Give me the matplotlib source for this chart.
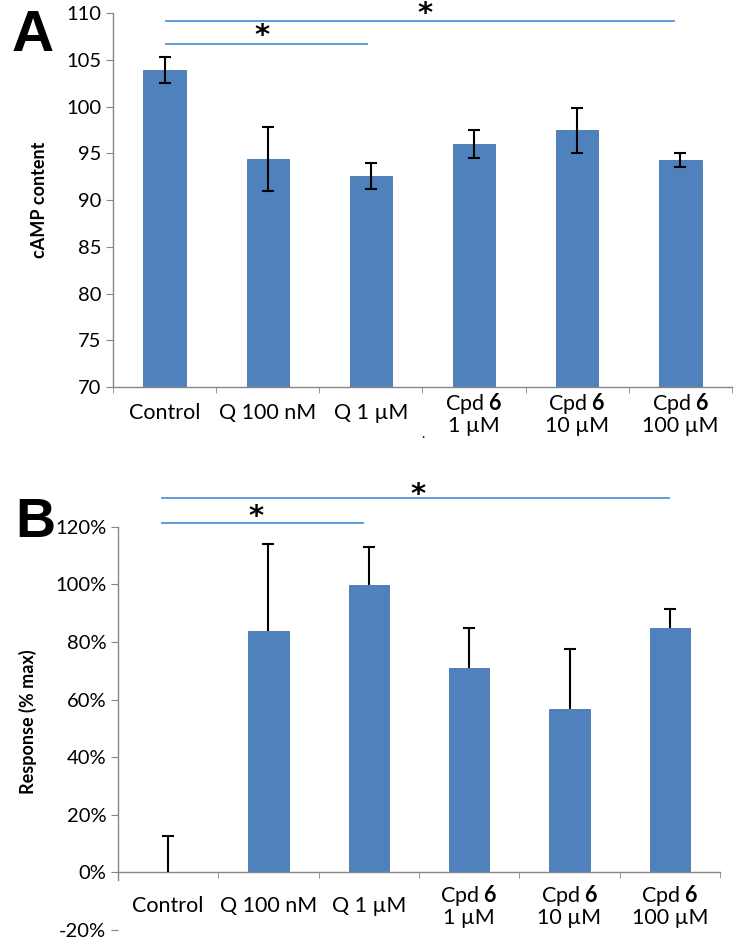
import matplotlib
matplotlib.use("Agg")
import matplotlib.pyplot as plt
import numpy as np
from matplotlib.ticker import PercentFormatter, FixedLocator

plt.rcParams['font.family'] = ['Lato', 'DejaVu Sans']
plt.rcParams['mathtext.fontset'] = 'custom'
plt.rcParams['mathtext.rm'] = 'Lato'
plt.rcParams['mathtext.bf'] = 'Lato:bold'
plt.rcParams['axes.unicode_minus'] = False

# data
labels = ['Control', 'Q 100 nM', 'Q 1 µM',
          'Cpd $\\mathbf{6}$\n1 µM', 'Cpd $\\mathbf{6}$\n10 µM', 'Cpd $\\mathbf{6}$\n100 µM']
camp = [103.9, 94.4, 92.6, 96.0, 97.5, 94.3]
camp_err = [1.4, 3.4, 1.4, 1.5, 2.4, 0.75]
resp = [0.0, 0.838, 0.997, 0.708, 0.567, 0.849]
resp_err = [0.126, 0.303, 0.132, 0.141, 0.210, 0.064]

bar_color = '#4F81BD'
sig_color = '#4C94D8'
axis_color = '#868686'

fig = plt.figure(figsize=(7.42, 9.46), dpi=100)
axA = fig.add_axes([0.1523, 0.5909, 0.8342, 0.3950])
axB = fig.add_axes([0.1590, 0.0169, 0.8114, 0.4263])

x = np.arange(len(labels))


def style_axis(ax, pad):
    for s in ['top', 'right']:
        ax.spines[s].set_visible(False)
    for s in ['left', 'bottom']:
        ax.spines[s].set_color(axis_color)
        ax.spines[s].set_linewidth(1.0)
    ax.set_xlim(-0.5, len(labels) - 0.5)
    ax.xaxis.set_major_locator(FixedLocator(x))
    ax.set_xticklabels(labels, fontsize=15.5, linespacing=1.0)
    ax.xaxis.set_minor_locator(FixedLocator(np.arange(len(labels) + 1) - 0.5))
    ax.tick_params(axis='x', which='major', length=0, pad=pad)
    ax.tick_params(axis='x', which='minor', length=4, direction='out', color=axis_color)
    ax.tick_params(axis='y', length=5, direction='out', color=axis_color, labelsize=14.5)
    for t in ax.get_xticklabels():
        t.set_verticalalignment('center')


def star(ax, xs, ytop):
    ax.text(xs, ytop, '*', fontsize=21, family='DejaVu Sans', fontweight='bold',
            ha='center', va='top', clip_on=False)


# ---- panel A ----
axA.bar(x, camp, width=0.41, color=bar_color, edgecolor='#4474ad', linewidth=0.6, zorder=2)
axA.errorbar(x, camp, yerr=camp_err, fmt='none', ecolor='black', elinewidth=1.5,
             capsize=4, capthick=1.5, zorder=3)
axA.set_ylim(70, 110)
axA.set_yticks(np.arange(70, 111, 5))
style_axis(axA, 19)
axA.set_ylabel('cAMP content', fontsize=13, fontweight='bold')
axA.yaxis.set_label_coords(-0.105, 0.5)

axA.plot([0.01, 4.94], [109.2, 109.2], color=sig_color, lw=1.3, clip_on=False)
axA.plot([0.01, 1.96], [106.7, 106.7], color=sig_color, lw=1.3, clip_on=False)
star(axA, 0.94, 109.1)
star(axA, 2.52, 111.4)
axA.text(2.50, 65.0, '.', fontsize=10, ha='center', va='center', clip_on=False)

# ---- panel B ----
axB.bar(x, resp, width=0.40, color=bar_color, edgecolor='#4474ad', linewidth=0.6, zorder=2)
axB.errorbar(x, resp, yerr=[np.zeros(len(resp)), resp_err], fmt='none', ecolor='black',
             elinewidth=1.5, capsize=0, zorder=3)
axB.plot(x, np.array(resp) + np.array(resp_err), ls='none', marker='_', ms=8, mew=1.5,
         color='black', zorder=3)
axB.set_ylim(-0.2, 1.2)
axB.set_yticks(np.arange(-0.2, 1.21, 0.2))
axB.yaxis.set_major_formatter(PercentFormatter(1.0, decimals=0))
axB.spines['bottom'].set_position(('data', 0))
axB.spines['left'].set_bounds(-0.025, 1.2)
style_axis(axB, 24)
axB.set_ylabel('Response (% max)', fontsize=13, fontweight='bold')
axB.yaxis.set_label_coords(-0.135, 0.516)

axB.plot([-0.06, 4.99], [1.30, 1.30], color=sig_color, lw=1.3, clip_on=False)
axB.plot([-0.06, 1.94], [1.213, 1.213], color=sig_color, lw=1.3, clip_on=False)
star(axB, 0.876, 1.282)
star(axB, 2.49, 1.360)

# panel letters
fig.text(0.044, 1 - 36 / 946, 'A', fontsize=42, fontweight='bold',
         family='Liberation Sans', ha='center', va='center')
fig.text(0.047, 1 - 523 / 946, 'B', fontsize=40, fontweight='bold',
         family='Liberation Sans', ha='center', va='center')

fig.savefig('out.png', dpi=100)
